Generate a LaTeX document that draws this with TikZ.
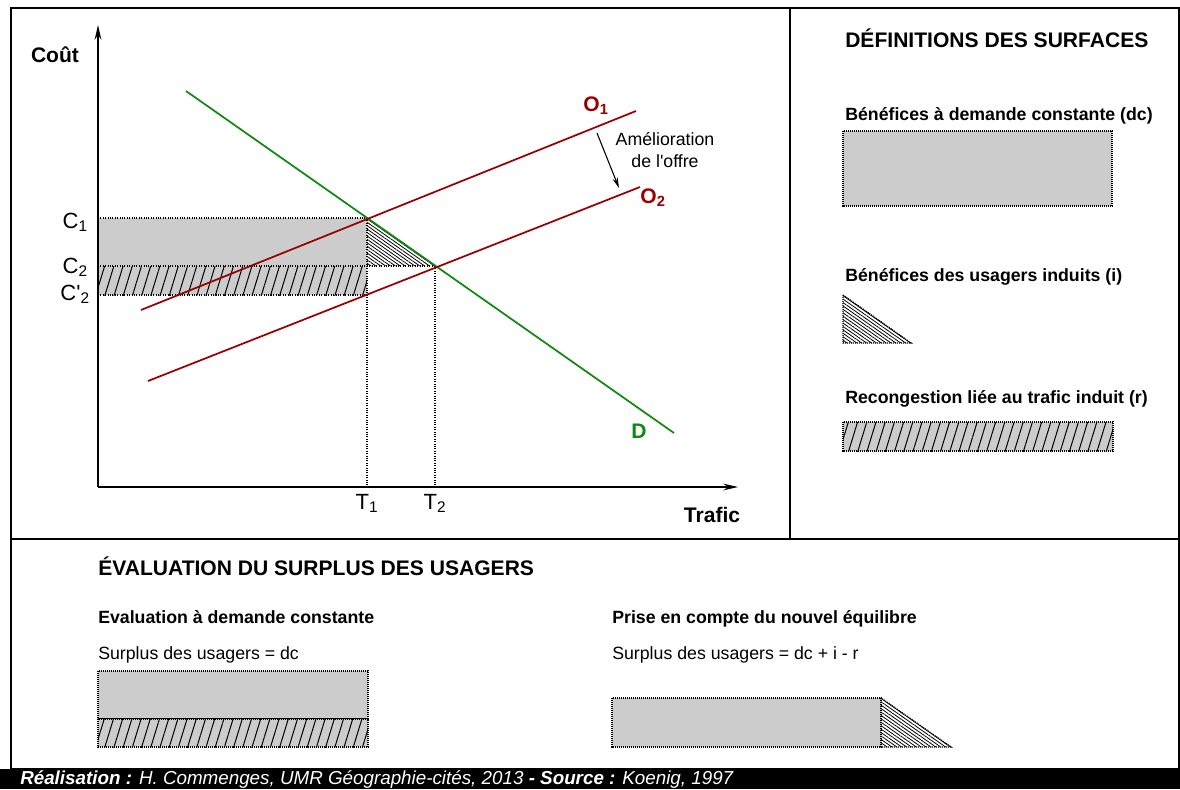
\documentclass[tikz,border=0pt]{standalone}
\usepackage{fontspec}
\setmainfont{Liberation Sans}
\usetikzlibrary{patterns.meta,arrows.meta}
\definecolor{grisf}{HTML}{CCCCCC}
\definecolor{rougef}{HTML}{990000}
\definecolor{vertf}{HTML}{118811}
\newcommand{\basefs}{\fontsize{13.3}{16}\selectfont}
\newcommand{\footfs}{\fontsize{14.1}{16}\selectfont}
\newcommand{\titlefs}{\fontsize{15.8}{19}\selectfont}
\newcommand{\axisfs}{\fontsize{16.5}{19}\selectfont}
\begin{document}
\begin{tikzpicture}[x=0.75pt,y=-0.75pt,
  txt/.style={inner sep=0pt,font=\basefs},
  ttl/.style={inner sep=0pt,font=\titlefs\bfseries},
  sub/.style={inner sep=0pt,font=\basefs\bfseries},
  axl/.style={inner sep=0pt,font=\axisfs},
  dotbox/.style={line width=1pt,dash pattern=on 0.8pt off 0.7pt},
  guide/.style={line width=0.8pt,dash pattern=on 0.8pt off 1pt},
  hatchR/.style={pattern={Lines[angle=73,distance=6.6pt,line width=0.75pt]}},
  hatchT/.style={pattern={Lines[angle=-35,distance=2.1pt,line width=0.6pt]}},
  curve/.style={line width=1.3pt},
  axis/.style={line width=1pt,-{Stealth[length=11pt,width=5pt]}}
]
\useasboundingbox (0,0) rectangle (1180,789);
% frame
\fill[white] (0,0) rectangle (1180,789);
\draw[line width=1.5pt] (11,8) rectangle (1179,769);
\draw[line width=1.5pt] (790,8) -- (790,539);
\draw[line width=1.5pt] (11,539) -- (1179,539);
\fill[black] (0,769) rectangle (1180,789);

% key coordinates
\coordinate (O) at (98,487);
\coordinate (Ytop) at (98,25);
\coordinate (Xend) at (738,487);
\coordinate (D1) at (186,91);
\coordinate (D2) at (674,433);
\coordinate (A1) at (141,310);
\coordinate (A2) at (636,111);
\coordinate (B1) at (148,381);
\coordinate (B2) at (640,187);
\coordinate (E1) at (367,218);
\coordinate (E2) at (435,266);
\coordinate (F1) at (367,266);
\coordinate (F2) at (367,295);
\coordinate (YC1) at (98,218);
\coordinate (YC2) at (98,266);
\coordinate (YC3) at (98,295);
\coordinate (XT1) at (367,487);
\coordinate (XT2) at (435,487);

% surfaces in chart
\fill[grisf] (YC1) rectangle (F1);
\fill[grisf] (YC2) rectangle (F2);
\path[hatchR] (YC2) rectangle (F2);
\path[hatchT] (E1) -- (F1) -- (E2) -- cycle;
\draw[guide] (YC1) -- (E1);
\draw[guide] (YC2) -- (E2);
\draw[guide] (YC3) -- (F2);
\draw[guide] (E1) -- (XT1);
\draw[guide] (E2) -- (XT2);

% axes
\draw[axis] (O) -- (Ytop);
\draw[axis] (O) -- (Xend);

% curves
\draw[curve,vertf] (D1) -- (D2);
\draw[curve,rougef] (A1) -- (A2);
\draw[curve,rougef] (B1) -- (B2);

% labels chart
\node[ttl,anchor=base] (cout) at (55,62) {Coût};
\node[ttl,anchor=base] (trafic) at (712,522) {Trafic};
\node[axl,anchor=base east] (c1) at (88,228) {C\textsubscript{1}};
\node[axl,anchor=base east] (c2) at (88,273) {C\textsubscript{2}};
\node[axl,anchor=base east] (c3) at (90,300) {C\textquotesingle\textsubscript{2}};
\node[axl,anchor=base] (t1) at (367,509) {T\textsubscript{1}};
\node[axl,anchor=base] (t2) at (435,509) {T\textsubscript{2}};
\node[ttl,rougef,anchor=base] (o1) at (596,111) {O\textsubscript{1}};
\node[ttl,rougef,anchor=base] (o2) at (653,203) {O\textsubscript{2}};
\node[ttl,vertf,anchor=base] (d) at (639,438) {D};
\node[txt,align=center,anchor=center] (amel) at (665,150) {Amélioration\\de l\textquotesingle offre};
\coordinate (arrS) at (597,133);
\coordinate (arrE) at (619,188);
\draw[line width=0.8pt,-{Stealth[length=8pt,width=4pt]}] (arrS) -- (arrE);

% right panel
\node[ttl,anchor=base west] (deftitle) at (845,47) {DÉFINITIONS DES SURFACES};
\node[sub,anchor=base west] (def1) at (845,120) {Bénéfices à demande constante (dc)};
\draw[dotbox,fill=grisf] (843,131) rectangle (1112,206);
\node[sub,anchor=base west] (def2) at (845,281) {Bénéfices des usagers induits (i)};
\path[hatchT] (843,295) -- (843,343) -- (911,343) -- cycle;
\draw[dotbox] (843,295) -- (843,343) -- (911,343) -- cycle;
\node[sub,anchor=base west] (def3) at (845,403) {Recongestion liée au trafic induit (r)};
\fill[grisf] (843,422) rectangle (1113,451);
\path[hatchR] (843,422) rectangle (1113,451);
\draw[dotbox] (843,422) rectangle (1113,451);

% bottom panel
\node[ttl,anchor=base west] (evtitle) at (98,575) {ÉVALUATION DU SURPLUS DES USAGERS};
\node[sub,anchor=base west] (ev1) at (98,623) {Evaluation à demande constante};
\node[txt,anchor=base west] (ev1f) at (98,659) {Surplus des usagers = dc};
\draw[dotbox,fill=grisf] (98,671) rectangle (368,719);
\fill[grisf] (98,719) rectangle (368,747);
\path[hatchR] (98,719) rectangle (368,747);
\draw[dotbox] (98,719) rectangle (368,747);

\node[sub,anchor=base west] (ev2) at (612,623) {Prise en compte du nouvel équilibre};
\node[txt,anchor=base west] (ev2f) at (612,659) {Surplus des usagers = dc + i - r};
\draw[dotbox,fill=grisf] (612,698) rectangle (881,747);
\path[hatchT] (881,698) -- (881,747) -- (951,747) -- cycle;
\draw[dotbox] (881,698) -- (881,747) -- (951,747) -- cycle;

% footer
\node[inner sep=0pt,white,anchor=base west,font=\footfs\itshape] (foot) at (20,784)
  {\textbf{Réalisation :} H. Commenges, UMR Géographie-cités, 2013 \textbf{- Source :} Koenig, 1997};
\end{tikzpicture}
\end{document}
